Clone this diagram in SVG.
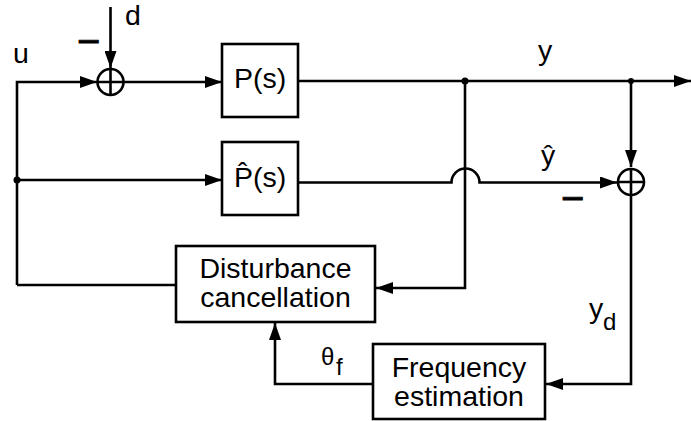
<svg xmlns="http://www.w3.org/2000/svg" width="691" height="421" viewBox="0 0 691 421">
<style>
.ln{fill:none;stroke:#000;stroke-width:2.6}
.bx{fill:#fff;stroke:#000;stroke-width:2.6}
.sj{fill:#fff;stroke:#000;stroke-width:2.6}
.t{font-family:"Liberation Sans",Arial,sans-serif;font-size:28.5px;fill:#000}
.s{font-family:"Liberation Sans",Arial,sans-serif;font-size:24px;fill:#000}
.m{font-family:"Liberation Sans",Arial,sans-serif;font-size:40px;fill:#000;stroke:#000;stroke-width:0.8}
</style>
<defs>
<marker id="ah" markerWidth="18" markerHeight="12" refX="17" refY="6" orient="auto" markerUnits="userSpaceOnUse">
<path d="M0,0 L17,6 L0,12 z" fill="#000"/>
</marker>
</defs>
<rect width="691" height="421" fill="#fff"/>
<g id="connectors">
<path class="ln" d="M17,285 L17,82 L97,82" marker-end="url(#ah)"/>
<path class="ln" d="M110.5,7 L110.5,68" marker-end="url(#ah)"/>
<path class="ln" d="M124,82 L222,82" marker-end="url(#ah)"/>
<path class="ln" d="M17,180 L222,180" marker-end="url(#ah)"/>
<path class="ln" d="M298,81 L691,81" marker-end="url(#ah)"/>
<path class="ln" d="M465,81 L465,288 L376,288" marker-end="url(#ah)"/>
<path class="ln" d="M631,81 L631,167" marker-end="url(#ah)"/>
<path class="ln" d="M298,182.5 L451.5,182.5 A14,14 0 0 1 479.5,182.5 L617,182.5" marker-end="url(#ah)"/>
<path class="ln" d="M631,195 L631,384 L546,384" marker-end="url(#ah)"/>
<path class="ln" d="M176,285 L17,285"/>
<path class="ln" d="M373,384 L275,384 L275,323" marker-end="url(#ah)"/>
<circle cx="17" cy="180" r="3.5" fill="#000"/>
<circle cx="465" cy="81" r="3.5" fill="#000"/>
<circle cx="631" cy="81" r="3" fill="#000"/>
</g>
<g id="sum1">
<circle class="sj" cx="110.5" cy="82" r="13"/>
<path class="ln" d="M97.5,82 L123.5,82 M110.5,69 L110.5,95"/>
</g>
<g id="sum2">
<circle class="sj" cx="631" cy="182" r="13"/>
<path class="ln" d="M618,182 L644,182 M631,169 L631,195"/>
</g>
<g id="plant">
<rect class="bx" x="222" y="44" width="76" height="73"/>
<text class="t" x="260" y="88" text-anchor="middle">P(s)</text>
</g>
<g id="model">
<rect class="bx" x="222" y="142" width="76" height="73"/>
<text class="t" x="260" y="187" text-anchor="middle">P̂(s)</text>
</g>
<g id="dc">
<rect class="bx" x="176" y="246" width="199" height="76"/>
<text class="t" x="275.5" y="278" text-anchor="middle">Disturbance</text>
<text class="t" x="275.5" y="307" text-anchor="middle">cancellation</text>
</g>
<g id="fe">
<rect class="bx" x="373" y="344" width="172" height="75"/>
<text class="t" x="459" y="377" text-anchor="middle">Frequency</text>
<text class="t" x="459" y="406" text-anchor="middle">estimation</text>
</g>
<g id="labels">
<text class="t" x="13" y="63">u</text>
<text class="t" x="125" y="25">d</text>
<text class="m" x="77" y="55">−</text>
<text class="t" x="538" y="60">y</text>
<text class="t" x="541" y="165">ŷ</text>
<text class="m" x="561" y="212">−</text>
<text class="s" x="321" y="365">θ<tspan x="336" y="375">f</tspan></text>
<text class="t" x="589" y="318">y<tspan class="s" x="603" y="330">d</tspan></text>
</g>
</svg>
